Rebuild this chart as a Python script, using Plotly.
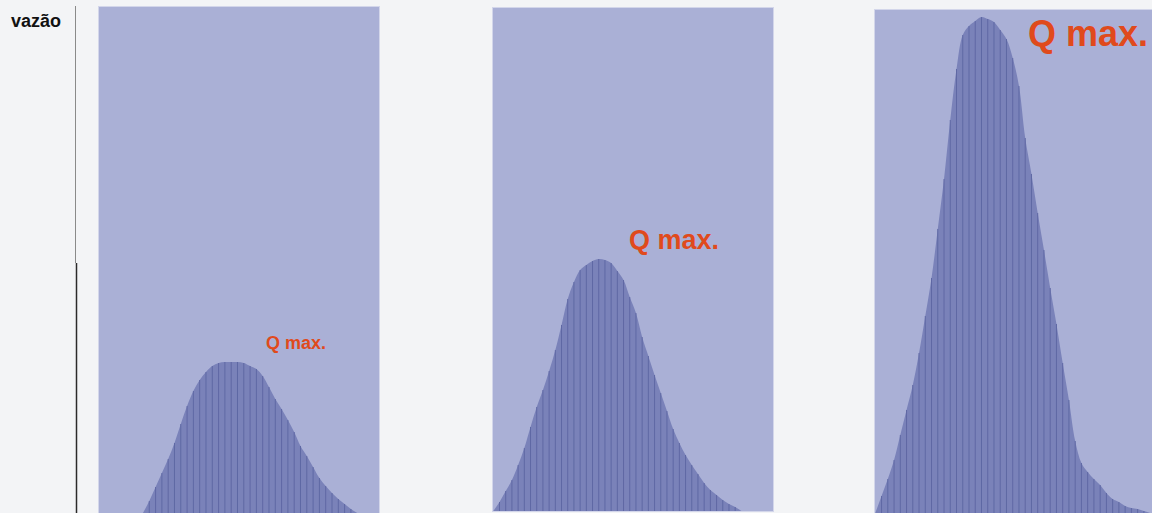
import plotly.graph_objects as go

# vazão (flow) per time step for the three hydrographs
vazao_1 = [0, 12, 26, 40, 54, 70, 89, 107, 122, 133, 141, 147, 150, 151, 151, 151,
           150, 147, 144, 137, 126, 114, 104, 93, 81, 67, 57, 46, 35, 27, 20, 14, 9, 4, 0]
vazao_2 = [0, 9, 20, 31, 46, 63, 84, 104, 121, 140, 161, 186, 212, 229, 241, 246, 250,
           252, 251, 248, 240, 231, 214, 198, 174, 155, 136, 118, 100, 82, 68, 56, 46,
           37, 28, 21, 16, 11, 7, 4, 0]
vazao_3 = [0, 17, 34, 53, 78, 103, 128, 160, 197, 235, 284, 334, 393, 444, 478, 487,
           492, 496, 494, 491, 483, 474, 455, 427, 375, 339, 300, 263, 225, 189, 150,
           113, 72, 50, 41, 34, 28, 20, 14, 11, 7, 5, 4, 2, 0]

label_y = "vazão"
label_q = "Q max."

PAGE_BG = "#f3f4f6"
PANEL_BG = "#aab0d6"
FILL = "#7a82b9"
BAR_LINE = "#5f68a4"
RED = "#e04a1c"

panels = [
    # data, x domain, y domain, x range, y range, label pos, label size
    (vazao_1, [99 / 1152, 379 / 1152], [0, 506 / 513], [-6.98, 37.46], [0, 506], (24.3, 170), 18),
    (vazao_2, [493 / 1152, 773 / 1152], [2 / 513, 505 / 513], [-0.05, 45.1], [0, 503], (29.2, 271), 27),
    (vazao_3, [875 / 1152, 1.0], [0, 503 / 513], [-0.05, 44.3], [0, 503], (34.0, 480), 36),
]

fig = go.Figure()

for k, (vals, xd, yd, xr, yr, lpos, lsize) in enumerate(panels, start=1):
    steps = list(range(len(vals)))
    xa = "x" if k == 1 else f"x{k}"
    ya = "y" if k == 1 else f"y{k}"

    # smooth filled hydrograph
    fig.add_trace(go.Scatter(
        x=steps, y=vals, mode="lines", line=dict(color=FILL, width=0, shape="spline"),
        fill="tozeroy", fillcolor=FILL, hoverinfo="skip", showlegend=False,
        xaxis=xa, yaxis=ya,
    ))

    # thin vertical line for each time step (drawn as one broken line)
    vx, vy = [], []
    for s, v in zip(steps, vals):
        vx += [s, s, None]
        vy += [0, v, None]
    fig.add_trace(go.Scatter(
        x=vx, y=vy, mode="lines", line=dict(color=BAR_LINE, width=1),
        hoverinfo="skip", showlegend=False, xaxis=xa, yaxis=ya,
    ))

    suffix = "" if k == 1 else str(k)
    fig.layout["xaxis" + suffix] = dict(
        domain=xd, range=xr, showgrid=False, zeroline=False, showticklabels=False,
        ticks="", showline=True, linecolor="#d3d6ea", mirror=True, fixedrange=True,
        anchor=ya,
    )
    fig.layout["yaxis" + suffix] = dict(
        domain=yd, range=yr, showgrid=False, zeroline=False, showticklabels=False,
        ticks="", showline=True, linecolor="#d3d6ea", mirror=True, fixedrange=True,
        anchor=xa,
    )

    fig.add_annotation(
        x=lpos[0], y=lpos[1], xref=xa, yref=ya, text=f"<b>{label_q}</b>",
        showarrow=False, font=dict(family="Liberation Sans, Arial", size=lsize, color=RED),
        xanchor="center", yanchor="middle",
    )

# y axis label and the plain axis line on the left
fig.add_annotation(
    x=36 / 1152, y=1 - 21 / 513, xref="paper", yref="paper", text=f"<b>{label_y}</b>",
    showarrow=False, font=dict(family="Liberation Sans, Arial", size=18, color="#111111"),
    xanchor="center", yanchor="middle",
)
fig.add_shape(type="line", xref="paper", yref="paper",
              x0=75.5 / 1152, x1=75.5 / 1152, y0=1 - 263 / 513, y1=1 - 6 / 513,
              line=dict(color="#8a8a8a", width=1))
fig.add_shape(type="line", xref="paper", yref="paper",
              x0=76.5 / 1152, x1=76.5 / 1152, y0=0, y1=1 - 263 / 513,
              line=dict(color="#2a2a2a", width=1.5))

fig.update_layout(
    width=1152, height=513,
    margin=dict(l=0, r=0, t=0, b=0),
    paper_bgcolor=PAGE_BG, plot_bgcolor=PANEL_BG,
    showlegend=False,
)

# drop the browser's default page margin so the figure sits at the corner
fig.write_html("out.html", config={"displayModeBar": False},
               post_script="document.body.style.margin='0';document.body.style.overflow='hidden';")
